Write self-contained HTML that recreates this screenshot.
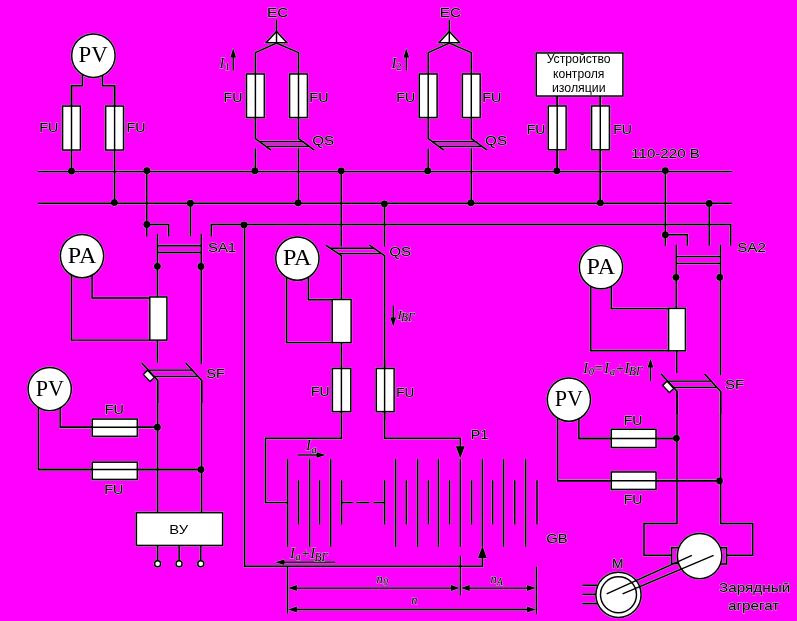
<!DOCTYPE html>
<html><head><meta charset="utf-8"><title>Схема</title>
<style>
html,body{margin:0;padding:0;background:#ff00ff;}
svg{display:block}
.s{font-family:"Liberation Sans",sans-serif;}
.r{font-family:"Liberation Serif",serif;}
.ri{font-family:"Liberation Serif",serif;font-style:italic;}
text{fill:#000;stroke:#c0c0c0;stroke-width:0.9px;paint-order:stroke fill;stroke-linejoin:round}
text.r,text.w{stroke:none}
svg{will-change:transform;}
</style></head><body>
<svg width="797" height="621" viewBox="0 0 797 621" fill="none" stroke="#000" stroke-width="1.45" stroke-linecap="butt" stroke-linejoin="miter">
<rect x="0" y="0" width="797" height="621" fill="#ff00ff" stroke="none"/>
<g stroke="#a4a4a4" fill="none">
<polyline points="38.0,171.6 732.0,171.6" stroke-width="2.40"/>
<polyline points="38.0,203.2 732.0,203.2" stroke-width="2.40"/>
<polyline points="211.3,236.4 211.3,224.5 730.7,224.5 730.7,245.8" stroke-width="2.40"/>
<polyline points="82.4,74.0 82.4,85.8 71.5,85.8 71.5,106.0" stroke-width="2.40"/>
<polyline points="102.5,74.0 102.5,85.8 114.6,85.8 114.6,106.0" stroke-width="2.40"/>
<rect x="62.6" y="106.1" width="17.8" height="43.9" stroke-width="2.40"/>
<rect x="105.7" y="106.1" width="17.8" height="43.9" stroke-width="2.40"/>
<polyline points="71.5,85.8 71.5,171.6" stroke-width="2.40"/>
<polyline points="114.6,85.8 114.6,203.2" stroke-width="2.40"/>
<circle cx="93.4" cy="55.7" r="21.7" stroke-width="2.40"/>
<circle cx="71.5" cy="171.1" r="3.88" fill="#a4a4a4" stroke="none"/>
<circle cx="114.4" cy="202.6" r="3.88" fill="#a4a4a4" stroke="none"/>
<rect x="246.5" y="74.0" width="17.8" height="43.5" stroke-width="2.40"/>
<rect x="289.6" y="74.0" width="17.8" height="43.5" stroke-width="2.40"/>
<polyline points="276.5,43.2 255.4,52.7 255.4,138.6 271.0,150.2" stroke-width="2.40"/>
<polyline points="276.5,43.2 298.5,52.7 298.5,138.6 314.3,150.2" stroke-width="2.40"/>
<polygon points="276.5,31.4 266.3,42.6 286.7,42.6" fill="#a4a4a4" stroke-width="2.40"/>
<polyline points="276.5,20.0 276.5,43.2" stroke-width="2.40"/>
<polyline points="260.1,141.6 303.8,141.6" stroke-width="2.35"/>
<polyline points="266.9,146.4 309.1,146.4" stroke-width="2.35"/>
<polyline points="255.4,148.4 255.4,171.6" stroke-width="2.40"/>
<polyline points="298.5,148.4 298.5,203.2" stroke-width="2.40"/>
<circle cx="254.9" cy="170.8" r="3.88" fill="#a4a4a4" stroke="none"/>
<circle cx="298.1" cy="202.8" r="3.88" fill="#a4a4a4" stroke="none"/>
<rect x="419.3" y="74.0" width="17.8" height="43.5" stroke-width="2.40"/>
<rect x="462.4" y="74.0" width="17.8" height="43.5" stroke-width="2.40"/>
<polyline points="449.3,43.2 428.2,52.7 428.2,138.6 443.8,150.2" stroke-width="2.40"/>
<polyline points="449.3,43.2 471.3,52.7 471.3,138.6 487.1,150.2" stroke-width="2.40"/>
<polygon points="449.3,31.4 439.1,42.6 459.5,42.6" fill="#a4a4a4" stroke-width="2.40"/>
<polyline points="449.3,20.0 449.3,43.2" stroke-width="2.40"/>
<polyline points="432.9,141.6 476.6,141.6" stroke-width="2.35"/>
<polyline points="439.7,146.4 481.9,146.4" stroke-width="2.35"/>
<polyline points="428.2,148.4 428.2,171.6" stroke-width="2.40"/>
<polyline points="471.3,148.4 471.3,203.2" stroke-width="2.40"/>
<circle cx="427.7" cy="170.8" r="3.88" fill="#a4a4a4" stroke="none"/>
<circle cx="470.9" cy="202.8" r="3.88" fill="#a4a4a4" stroke="none"/>
<polyline points="233.2,70.6 233.2,56.4" stroke-width="2.25"/>
<polygon points="233.2,48.4 230.4,57.4 236.0,57.4" fill="#a4a4a4" stroke-width="0.95"/>
<polyline points="406.3,70.6 406.3,56.4" stroke-width="2.25"/>
<polygon points="406.3,48.4 403.5,57.4 409.1,57.4" fill="#a4a4a4" stroke-width="0.95"/>
<polyline points="557.2,96.0 557.2,171.6" stroke-width="2.40"/>
<polyline points="600.3,96.0 600.3,203.2" stroke-width="2.40"/>
<rect x="536.3" y="53.0" width="86.6" height="43.0" stroke-width="2.40"/>
<rect x="548.3" y="106.0" width="17.8" height="43.7" stroke-width="2.40"/>
<rect x="591.6" y="106.0" width="17.8" height="43.7" stroke-width="2.40"/>
<polyline points="557.2,96.0 557.2,171.6" stroke-width="2.40"/>
<polyline points="600.3,96.0 600.3,203.2" stroke-width="2.40"/>
<circle cx="556.8" cy="170.8" r="3.88" fill="#a4a4a4" stroke="none"/>
<circle cx="600.3" cy="202.8" r="3.88" fill="#a4a4a4" stroke="none"/>
<polyline points="146.8,171.6 146.8,236.4" stroke-width="2.40"/>
<polyline points="146.8,224.5 168.7,224.5 168.7,236.4" stroke-width="2.40"/>
<polyline points="190.5,203.2 190.5,236.4" stroke-width="2.40"/>
<circle cx="146.8" cy="170.6" r="3.88" fill="#a4a4a4" stroke="none"/>
<circle cx="190.3" cy="203.2" r="3.88" fill="#a4a4a4" stroke="none"/>
<circle cx="146.8" cy="224.5" r="3.88" fill="#a4a4a4" stroke="none"/>
<polyline points="157.4,234.1 157.4,297.0" stroke-width="2.40"/>
<polyline points="201.2,234.1 201.2,364.2" stroke-width="2.40"/>
<polyline points="157.4,245.7 201.2,245.7" stroke-width="2.35"/>
<polyline points="157.4,252.5 201.2,252.5" stroke-width="2.35"/>
<circle cx="157.4" cy="266.3" r="3.88" fill="#a4a4a4" stroke="none"/>
<circle cx="201.0" cy="266.5" r="3.88" fill="#a4a4a4" stroke="none"/>
<circle cx="244.0" cy="224.9" r="3.88" fill="#a4a4a4" stroke="none"/>
<polyline points="244.6,224.5 244.6,566.3 482.4,566.3 482.4,556.0" stroke-width="2.40"/>
<polyline points="71.5,275.0 71.5,340.1 150.0,340.1" stroke-width="2.40"/>
<polyline points="92.1,273.0 92.1,298.0 150.5,298.0" stroke-width="2.40"/>
<circle cx="82.0" cy="256.1" r="21.6" stroke-width="2.40"/>
<rect x="149.8" y="297.0" width="17.1" height="43.1" stroke-width="2.40"/>
<polyline points="157.4,340.1 157.4,362.6" stroke-width="2.40"/>
<polyline points="141.8,363.0 157.7,380.4 157.7,403.0" stroke-width="2.40"/>
<polyline points="185.7,363.0 201.8,380.6 201.8,403.0" stroke-width="2.40"/>
<polyline points="148.8,370.1 192.7,370.1" stroke-width="2.35"/>
<polyline points="154.5,376.4 197.8,376.4" stroke-width="2.35"/>
<polyline points="157.6,380.4 157.6,512.7" stroke-width="2.40"/>
<polyline points="201.6,380.8 201.6,512.7" stroke-width="2.40"/>
<polyline points="38.4,408.0 38.4,469.5 201.5,469.5" stroke-width="2.40"/>
<polyline points="60.2,406.0 60.2,427.2 157.5,427.2" stroke-width="2.40"/>
<rect x="92.3" y="419.1" width="45.0" height="17.2" stroke-width="2.40"/>
<rect x="92.3" y="462.2" width="45.0" height="17.2" stroke-width="2.40"/>
<polyline points="60.2,427.2 157.5,427.2" stroke-width="2.40"/>
<polyline points="38.4,469.5 201.5,469.5" stroke-width="2.40"/>
<circle cx="49.7" cy="389.0" r="21.6" stroke-width="2.40"/>
<circle cx="157.4" cy="427.2" r="3.88" fill="#a4a4a4" stroke="none"/>
<circle cx="201.0" cy="469.6" r="3.88" fill="#a4a4a4" stroke="none"/>
<polyline points="157.6,545.4 157.6,561.0" stroke-width="2.40"/>
<circle cx="157.6" cy="563.8" r="3.0" stroke-width="2.40"/>
<polyline points="179.1,545.4 179.1,561.0" stroke-width="2.40"/>
<circle cx="179.1" cy="563.8" r="3.0" stroke-width="2.40"/>
<polyline points="200.8,545.4 200.8,561.0" stroke-width="2.40"/>
<circle cx="200.8" cy="563.8" r="3.0" stroke-width="2.40"/>
<rect x="136.4" y="512.7" width="86.2" height="32.7" stroke-width="2.40"/>
<polyline points="341.2,171.6 341.2,246.6" stroke-width="2.40"/>
<polyline points="384.5,203.2 384.5,246.6" stroke-width="2.40"/>
<circle cx="341.2" cy="170.8" r="3.88" fill="#a4a4a4" stroke="none"/>
<circle cx="384.4" cy="203.8" r="3.88" fill="#a4a4a4" stroke="none"/>
<polyline points="326.0,245.4 341.4,255.7 341.4,299.5" stroke-width="2.40"/>
<polyline points="369.4,245.2 384.6,255.7 384.6,438.3 460.3,438.3 460.3,447.0" stroke-width="2.40"/>
<polyline points="330.5,248.3 373.2,248.3" stroke-width="2.35"/>
<polyline points="339.5,253.6 381.2,253.6" stroke-width="2.35"/>
<polyline points="286.6,277.0 286.6,342.6 333.0,342.6" stroke-width="2.40"/>
<polyline points="308.4,276.0 308.4,299.8 333.0,299.8" stroke-width="2.40"/>
<circle cx="297.4" cy="258.6" r="21.6" stroke-width="2.40"/>
<rect x="332.2" y="299.5" width="18.9" height="43.1" stroke-width="2.40"/>
<rect x="332.4" y="368.5" width="18.4" height="43.1" stroke-width="2.40"/>
<rect x="376.3" y="368.5" width="17.8" height="43.1" stroke-width="2.40"/>
<polyline points="341.4,342.6 341.4,438.3 265.5,438.3 265.5,502.6 287.5,502.6" stroke-width="2.40"/>
<polyline points="384.6,360.0 384.6,420.0" stroke-width="2.40"/>
<polygon points="460.3,458.3 455.9,446.2 464.7,446.2" fill="#a4a4a4" stroke-width="0.95"/>
<polyline points="393.2,305.6 393.2,318.4" stroke-width="2.25"/>
<polygon points="393.2,326.4 390.4,317.4 396.0,317.4" fill="#a4a4a4" stroke-width="0.95"/>
<polyline points="287.6,459.2 287.6,546.7" stroke-width="2.45"/>
<polyline points="309.6,459.2 309.6,546.7" stroke-width="2.45"/>
<polyline points="330.7,459.2 330.7,546.7" stroke-width="2.45"/>
<polyline points="395.6,459.2 395.6,546.7" stroke-width="2.45"/>
<polyline points="417.6,459.2 417.6,546.7" stroke-width="2.45"/>
<polyline points="438.4,459.2 438.4,546.7" stroke-width="2.45"/>
<polyline points="460.3,459.2 460.3,546.7" stroke-width="2.45"/>
<polyline points="482.4,459.2 482.4,546.7" stroke-width="2.45"/>
<polyline points="503.5,459.2 503.5,546.7" stroke-width="2.45"/>
<polyline points="525.6,459.2 525.6,546.7" stroke-width="2.45"/>
<polyline points="298.5,480.3 298.5,524.5" stroke-width="2.45"/>
<polyline points="319.6,480.3 319.6,524.5" stroke-width="2.45"/>
<polyline points="341.6,480.3 341.6,524.5" stroke-width="2.45"/>
<polyline points="384.6,480.3 384.6,524.5" stroke-width="2.45"/>
<polyline points="406.3,480.3 406.3,524.5" stroke-width="2.45"/>
<polyline points="428.4,480.3 428.4,524.5" stroke-width="2.45"/>
<polyline points="449.5,480.3 449.5,524.5" stroke-width="2.45"/>
<polyline points="471.6,480.3 471.6,524.5" stroke-width="2.45"/>
<polyline points="492.7,480.3 492.7,524.5" stroke-width="2.45"/>
<polyline points="514.8,480.3 514.8,524.5" stroke-width="2.45"/>
<polyline points="537.0,480.3 537.0,524.5" stroke-width="2.45"/>
<polyline points="341.6,502.6 352.9,502.6" stroke-width="2.40"/>
<polyline points="356.6,502.6 369.2,502.6" stroke-width="2.40"/>
<polyline points="373.6,502.6 384.6,502.6" stroke-width="2.40"/>
<polygon points="482.4,546.3 478.0,558.0 486.8,558.0" fill="#a4a4a4" stroke-width="0.95"/>
<polyline points="297.9,455.0 317.6,455.0" stroke-width="2.25"/>
<polygon points="325.6,455.0 316.6,452.3 316.6,457.7" fill="#a4a4a4" stroke-width="0.95"/>
<polyline points="335.0,562.2 283.4,562.2" stroke-width="2.25"/>
<polygon points="275.4,562.2 284.4,559.5 284.4,564.9" fill="#a4a4a4" stroke-width="0.95"/>
<polyline points="287.5,566.3 287.5,613.5" stroke-width="2.25"/>
<polyline points="460.3,555.5 460.3,595.2" stroke-width="2.25"/>
<polyline points="536.4,566.8 536.4,614.0" stroke-width="2.25"/>
<polyline points="295.5,588.1 452.3,588.1" stroke-width="2.25"/>
<polygon points="288.3,588.1 296.9,585.1 296.9,591.1" fill="#a4a4a4" stroke-width="0.95"/>
<polygon points="459.5,588.1 450.9,585.1 450.9,591.1" fill="#a4a4a4" stroke-width="0.95"/>
<polyline points="468.3,588.1 528.4,588.1" stroke-width="2.25"/>
<polygon points="461.1,588.1 469.7,585.1 469.7,591.1" fill="#a4a4a4" stroke-width="0.95"/>
<polygon points="535.6,588.1 527.0,585.1 527.0,591.1" fill="#a4a4a4" stroke-width="0.95"/>
<polyline points="295.5,609.5 528.4,609.5" stroke-width="2.25"/>
<polygon points="288.3,609.5 296.9,606.5 296.9,612.5" fill="#a4a4a4" stroke-width="0.95"/>
<polygon points="535.6,609.5 527.0,606.5 527.0,612.5" fill="#a4a4a4" stroke-width="0.95"/>
<polyline points="665.3,171.6 665.3,245.8" stroke-width="2.40"/>
<polyline points="665.3,234.8 687.3,234.8 687.3,245.8" stroke-width="2.40"/>
<polyline points="709.2,203.2 709.2,245.8" stroke-width="2.40"/>
<circle cx="665.3" cy="170.6" r="3.88" fill="#a4a4a4" stroke="none"/>
<circle cx="709.2" cy="203.4" r="3.88" fill="#a4a4a4" stroke="none"/>
<circle cx="665.3" cy="234.8" r="3.88" fill="#a4a4a4" stroke="none"/>
<polyline points="676.2,244.8 676.2,308.4" stroke-width="2.40"/>
<polyline points="720.5,244.8 720.5,375.2" stroke-width="2.40"/>
<polyline points="676.0,256.6 720.5,256.6" stroke-width="2.35"/>
<polyline points="676.0,263.4 720.5,263.4" stroke-width="2.35"/>
<circle cx="676.0" cy="277.3" r="3.88" fill="#a4a4a4" stroke="none"/>
<circle cx="719.8" cy="277.3" r="3.88" fill="#a4a4a4" stroke="none"/>
<polyline points="590.8,286.0 590.8,350.8 669.0,350.8" stroke-width="2.40"/>
<polyline points="611.3,284.0 611.3,308.6 669.0,308.6" stroke-width="2.40"/>
<circle cx="601.0" cy="267.2" r="21.6" stroke-width="2.40"/>
<rect x="668.6" y="308.4" width="16.8" height="42.4" stroke-width="2.40"/>
<polyline points="676.8,350.8 676.8,372.9" stroke-width="2.40"/>
<polyline points="661.2,374.0 677.1,391.4 677.1,414.0" stroke-width="2.40"/>
<polyline points="704.6,374.0 720.7,391.6 720.7,414.0" stroke-width="2.40"/>
<polyline points="668.2,381.1 711.6,381.1" stroke-width="2.35"/>
<polyline points="673.9,387.4 716.7,387.4" stroke-width="2.35"/>
<polyline points="677.0,391.4 677.0,523.5 644.0,523.5 644.0,555.3 671.0,555.3" stroke-width="2.40"/>
<polyline points="720.7,391.6 720.7,523.5 752.8,523.5 752.8,555.3 727.0,555.3" stroke-width="2.40"/>
<polyline points="650.5,381.0 650.5,366.5" stroke-width="2.25"/>
<polygon points="650.5,358.5 647.7,367.5 653.3,367.5" fill="#a4a4a4" stroke-width="0.95"/>
<polyline points="557.6,419.0 557.6,480.8 720.5,480.8" stroke-width="2.40"/>
<polyline points="578.9,418.0 578.9,438.4 677.0,438.4" stroke-width="2.40"/>
<rect x="611.3" y="429.3" width="44.7" height="18.2" stroke-width="2.40"/>
<rect x="611.3" y="472.0" width="44.7" height="17.4" stroke-width="2.40"/>
<polyline points="578.9,438.4 677.0,438.4" stroke-width="2.40"/>
<polyline points="557.6,480.8 720.5,480.8" stroke-width="2.40"/>
<circle cx="568.9" cy="399.6" r="21.6" stroke-width="2.40"/>
<circle cx="676.4" cy="438.3" r="3.88" fill="#a4a4a4" stroke="none"/>
<circle cx="719.6" cy="480.8" r="3.88" fill="#a4a4a4" stroke="none"/>
<polyline points="680.0,547.8 671.6,547.8 671.6,563.6 680.0,563.6" stroke-width="2.45"/>
<polyline points="718.0,547.8 726.6,547.8 726.6,563.9 718.0,563.9" stroke-width="2.45"/>
<ellipse cx="699.6" cy="556.0" rx="22.2" ry="22.6" stroke-width="2.40"/>
<polyline points="582.4,585.2 597.0,585.2" stroke-width="2.45"/>
<polyline points="582.4,594.3 597.0,594.3" stroke-width="2.45"/>
<polyline points="582.4,603.6 597.0,603.6" stroke-width="2.45"/>
<circle cx="618.5" cy="594.8" r="22.6" stroke-width="2.40"/>
<circle cx="618.5" cy="594.8" r="18.0" stroke-width="2.40"/>
<polyline points="606.7,593.8 691.9,555.3" stroke-width="2.40"/>
<polyline points="622.6,593.8 713.6,555.3" stroke-width="2.40"/>
</g>
<polyline points="38.0,171.6 732.0,171.6"/>
<polyline points="38.0,203.2 732.0,203.2"/>
<polyline points="211.3,236.4 211.3,224.5 730.7,224.5 730.7,245.8"/>
<polyline points="82.4,74.0 82.4,85.8 71.5,85.8 71.5,106.0"/>
<polyline points="102.5,74.0 102.5,85.8 114.6,85.8 114.6,106.0"/>
<rect x="62.6" y="106.1" width="17.8" height="43.9" fill="#fff"/>
<rect x="105.7" y="106.1" width="17.8" height="43.9" fill="#fff"/>
<polyline points="71.5,85.8 71.5,171.6"/>
<polyline points="114.6,85.8 114.6,203.2"/>
<circle cx="93.4" cy="55.7" r="21.7" fill="#fff"/>
<text class="r" x="93.2" y="62.2" font-size="24" text-anchor="middle" textLength="29.2" lengthAdjust="spacingAndGlyphs">PV</text>
<circle cx="71.5" cy="171.1" r="3.4" fill="#000" stroke="none"/>
<circle cx="114.4" cy="202.6" r="3.4" fill="#000" stroke="none"/>
<text class="s" x="39.35" y="131.7" font-size="13.2" textLength="19.11" lengthAdjust="spacingAndGlyphs">FU</text>
<text class="s" x="126.45" y="131.7" font-size="13.2" textLength="19.01" lengthAdjust="spacingAndGlyphs">FU</text>
<rect x="246.5" y="74.0" width="17.8" height="43.5" fill="#fff"/>
<rect x="289.6" y="74.0" width="17.8" height="43.5" fill="#fff"/>
<polyline points="276.5,43.2 255.4,52.7 255.4,138.6 271.0,150.2"/>
<polyline points="276.5,43.2 298.5,52.7 298.5,138.6 314.3,150.2"/>
<polygon points="276.5,31.4 266.3,42.6 286.7,42.6" fill="#fff"/>
<polyline points="276.5,20.0 276.5,43.2"/>
<polyline points="260.1,141.6 303.8,141.6" stroke-width="1.4"/>
<polyline points="266.9,146.4 309.1,146.4" stroke-width="1.4"/>
<polyline points="255.4,148.4 255.4,171.6"/>
<polyline points="298.5,148.4 298.5,203.2"/>
<circle cx="254.9" cy="170.8" r="3.4" fill="#000" stroke="none"/>
<circle cx="298.1" cy="202.8" r="3.4" fill="#000" stroke="none"/>
<text class="s" x="266.95" y="17.3" font-size="13.2" textLength="21.39" lengthAdjust="spacingAndGlyphs">EC</text>
<text class="s" x="223.55" y="102.2" font-size="13.2" textLength="18.91" lengthAdjust="spacingAndGlyphs">FU</text>
<text class="s" x="309.35" y="102.2" font-size="13.2" textLength="19.21" lengthAdjust="spacingAndGlyphs">FU</text>
<text class="s" x="312.25" y="145.1" font-size="13.2" textLength="22.00" lengthAdjust="spacingAndGlyphs">QS</text>
<rect x="419.3" y="74.0" width="17.8" height="43.5" fill="#fff"/>
<rect x="462.4" y="74.0" width="17.8" height="43.5" fill="#fff"/>
<polyline points="449.3,43.2 428.2,52.7 428.2,138.6 443.8,150.2"/>
<polyline points="449.3,43.2 471.3,52.7 471.3,138.6 487.1,150.2"/>
<polygon points="449.3,31.4 439.1,42.6 459.5,42.6" fill="#fff"/>
<polyline points="449.3,20.0 449.3,43.2"/>
<polyline points="432.9,141.6 476.6,141.6" stroke-width="1.4"/>
<polyline points="439.7,146.4 481.9,146.4" stroke-width="1.4"/>
<polyline points="428.2,148.4 428.2,171.6"/>
<polyline points="471.3,148.4 471.3,203.2"/>
<circle cx="427.7" cy="170.8" r="3.4" fill="#000" stroke="none"/>
<circle cx="470.9" cy="202.8" r="3.4" fill="#000" stroke="none"/>
<text class="s" x="439.75" y="17.3" font-size="13.2" textLength="21.39" lengthAdjust="spacingAndGlyphs">EC</text>
<text class="s" x="396.35" y="102.2" font-size="13.2" textLength="18.91" lengthAdjust="spacingAndGlyphs">FU</text>
<text class="s" x="482.15" y="102.2" font-size="13.2" textLength="19.21" lengthAdjust="spacingAndGlyphs">FU</text>
<text class="s" x="485.05" y="145.1" font-size="13.2" textLength="22.00" lengthAdjust="spacingAndGlyphs">QS</text>
<polyline points="233.2,70.6 233.2,56.4" stroke-width="1.3"/>
<polygon points="233.2,48.4 230.4,57.4 236.0,57.4" fill="#000" stroke="none"/>
<text class="ri" x="219.4" y="67.6" font-size="14.5">I<tspan font-size="10" dy="2.2" dx="0.6" font-style="normal">1</tspan></text>
<polyline points="406.3,70.6 406.3,56.4" stroke-width="1.3"/>
<polygon points="406.3,48.4 403.5,57.4 409.1,57.4" fill="#000" stroke="none"/>
<text class="ri" x="391.4" y="67.6" font-size="14.5">I<tspan font-size="10" dy="2.2" dx="0.3" font-style="normal">2</tspan></text>
<polyline points="557.2,96.0 557.2,171.6"/>
<polyline points="600.3,96.0 600.3,203.2"/>
<rect x="536.3" y="53.0" width="86.6" height="43.0" fill="#fff"/>
<rect x="548.3" y="106.0" width="17.8" height="43.7" fill="#fff"/>
<rect x="591.6" y="106.0" width="17.8" height="43.7" fill="#fff"/>
<polyline points="557.2,96.0 557.2,171.6"/>
<polyline points="600.3,96.0 600.3,203.2"/>
<circle cx="556.8" cy="170.8" r="3.4" fill="#000" stroke="none"/>
<circle cx="600.3" cy="202.8" r="3.4" fill="#000" stroke="none"/>
<text class="s w" x="546.65" y="63.3" font-size="12.5" textLength="63.99" lengthAdjust="spacingAndGlyphs">Устройство</text>
<text class="s w" x="552.95" y="77.8" font-size="12.5" textLength="51.41" lengthAdjust="spacingAndGlyphs">контроля</text>
<text class="s w" x="551.95" y="92.3" font-size="12.5" textLength="53.70" lengthAdjust="spacingAndGlyphs">изоляции</text>
<text class="s" x="526.75" y="134.1" font-size="13.2" textLength="18.71" lengthAdjust="spacingAndGlyphs">FU</text>
<text class="s" x="613.15" y="134.1" font-size="13.2" textLength="18.71" lengthAdjust="spacingAndGlyphs">FU</text>
<text class="s" x="631.35" y="158.0" font-size="13.2" textLength="68.41" lengthAdjust="spacingAndGlyphs">110-220 В</text>
<polyline points="146.8,171.6 146.8,236.4"/>
<polyline points="146.8,224.5 168.7,224.5 168.7,236.4"/>
<polyline points="190.5,203.2 190.5,236.4"/>
<circle cx="146.8" cy="170.6" r="3.4" fill="#000" stroke="none"/>
<circle cx="190.3" cy="203.2" r="3.4" fill="#000" stroke="none"/>
<circle cx="146.8" cy="224.5" r="3.4" fill="#000" stroke="none"/>
<polyline points="157.4,234.1 157.4,297.0"/>
<polyline points="201.2,234.1 201.2,364.2"/>
<polyline points="157.4,245.7 201.2,245.7" stroke-width="1.4"/>
<polyline points="157.4,252.5 201.2,252.5" stroke-width="1.4"/>
<circle cx="157.4" cy="266.3" r="3.4" fill="#000" stroke="none"/>
<circle cx="201.0" cy="266.5" r="3.4" fill="#000" stroke="none"/>
<text class="s" x="208.05" y="251.8" font-size="13.2" textLength="28.10" lengthAdjust="spacingAndGlyphs">SA1</text>
<circle cx="244.0" cy="224.9" r="3.4" fill="#000" stroke="none"/>
<polyline points="244.6,224.5 244.6,566.3 482.4,566.3 482.4,556.0"/>
<polyline points="71.5,275.0 71.5,340.1 150.0,340.1"/>
<polyline points="92.1,273.0 92.1,298.0 150.5,298.0"/>
<circle cx="82.0" cy="256.1" r="21.6" fill="#fff"/>
<text class="r" x="82.0" y="263.3" font-size="24" text-anchor="middle" textLength="28.6" lengthAdjust="spacingAndGlyphs">PA</text>
<rect x="149.8" y="297.0" width="17.1" height="43.1" fill="#fff"/>
<polyline points="157.4,340.1 157.4,362.6"/>
<polyline points="141.8,363.0 157.7,380.4 157.7,403.0"/>
<polyline points="185.7,363.0 201.8,380.6 201.8,403.0"/>
<polyline points="148.8,370.1 192.7,370.1" stroke-width="1.4"/>
<polyline points="154.5,376.4 197.8,376.4" stroke-width="1.4"/>
<rect x="143.9" y="372.9" width="9.8" height="6.0" fill="#fff" stroke-width="1.3" transform="rotate(47 148.8 375.9)"/>
<polyline points="157.6,380.4 157.6,512.7"/>
<polyline points="201.6,380.8 201.6,512.7"/>
<text class="s" x="206.25" y="377.7" font-size="13.2" textLength="18.81" lengthAdjust="spacingAndGlyphs">SF</text>
<polyline points="38.4,408.0 38.4,469.5 201.5,469.5"/>
<polyline points="60.2,406.0 60.2,427.2 157.5,427.2"/>
<rect x="92.3" y="419.1" width="45.0" height="17.2" fill="#fff"/>
<rect x="92.3" y="462.2" width="45.0" height="17.2" fill="#fff"/>
<polyline points="60.2,427.2 157.5,427.2"/>
<polyline points="38.4,469.5 201.5,469.5"/>
<circle cx="49.7" cy="389.0" r="21.6" fill="#fff"/>
<text class="r" x="49.9" y="395.7" font-size="24" text-anchor="middle" textLength="28.2" lengthAdjust="spacingAndGlyphs">PV</text>
<circle cx="157.4" cy="427.2" r="3.4" fill="#000" stroke="none"/>
<circle cx="201.0" cy="469.6" r="3.4" fill="#000" stroke="none"/>
<text class="s" x="104.65" y="414.4" font-size="13.2" textLength="19.11" lengthAdjust="spacingAndGlyphs">FU</text>
<text class="s" x="104.25" y="493.6" font-size="13.2" textLength="19.21" lengthAdjust="spacingAndGlyphs">FU</text>
<polyline points="157.6,545.4 157.6,561.0"/>
<circle cx="157.6" cy="563.8" r="3.0" fill="#fff"/>
<polyline points="179.1,545.4 179.1,561.0"/>
<circle cx="179.1" cy="563.8" r="3.0" fill="#fff"/>
<polyline points="200.8,545.4 200.8,561.0"/>
<circle cx="200.8" cy="563.8" r="3.0" fill="#fff"/>
<rect x="136.4" y="512.7" width="86.2" height="32.7" fill="#fff"/>
<text class="s w" x="169.35" y="533.8" font-size="13.2" textLength="18.78" lengthAdjust="spacingAndGlyphs">ВУ</text>
<polyline points="341.2,171.6 341.2,246.6"/>
<polyline points="384.5,203.2 384.5,246.6"/>
<circle cx="341.2" cy="170.8" r="3.4" fill="#000" stroke="none"/>
<circle cx="384.4" cy="203.8" r="3.4" fill="#000" stroke="none"/>
<polyline points="326.0,245.4 341.4,255.7 341.4,299.5"/>
<polyline points="369.4,245.2 384.6,255.7 384.6,438.3 460.3,438.3 460.3,447.0"/>
<polyline points="330.5,248.3 373.2,248.3" stroke-width="1.4"/>
<polyline points="339.5,253.6 381.2,253.6" stroke-width="1.4"/>
<text class="s" x="389.25" y="256.1" font-size="13.2" textLength="22.00" lengthAdjust="spacingAndGlyphs">QS</text>
<polyline points="286.6,277.0 286.6,342.6 333.0,342.6"/>
<polyline points="308.4,276.0 308.4,299.8 333.0,299.8"/>
<circle cx="297.4" cy="258.6" r="21.6" fill="#fff"/>
<text class="r" x="297.2" y="265.2" font-size="24" text-anchor="middle" textLength="28.6" lengthAdjust="spacingAndGlyphs">PA</text>
<rect x="332.2" y="299.5" width="18.9" height="43.1" fill="#fff"/>
<rect x="332.4" y="368.5" width="18.4" height="43.1" fill="#fff"/>
<rect x="376.3" y="368.5" width="17.8" height="43.1" fill="#fff"/>
<polyline points="341.4,342.6 341.4,438.3 265.5,438.3 265.5,502.6 287.5,502.6"/>
<polyline points="384.6,360.0 384.6,420.0"/>
<text class="s" x="310.95" y="396.2" font-size="13.2" textLength="18.61" lengthAdjust="spacingAndGlyphs">FU</text>
<text class="s" x="396.25" y="396.5" font-size="13.2" textLength="18.01" lengthAdjust="spacingAndGlyphs">FU</text>
<polygon points="460.3,458.3 455.9,446.2 464.7,446.2" fill="#000" stroke="none"/>
<text class="s" x="470.75" y="438.6" font-size="13.2" textLength="17.71" lengthAdjust="spacingAndGlyphs">P1</text>
<polyline points="393.2,305.6 393.2,318.4" stroke-width="1.3"/>
<polygon points="393.2,326.4 390.4,317.4 396.0,317.4" fill="#000" stroke="none"/>
<text class="ri" x="397.5" y="318.6" font-size="13.2">I<tspan font-size="11.5" dy="2.6" dx="-0.8">ВГ</tspan></text>
<polyline points="287.6,459.2 287.6,546.7" stroke-width="1.5"/>
<polyline points="309.6,459.2 309.6,546.7" stroke-width="1.5"/>
<polyline points="330.7,459.2 330.7,546.7" stroke-width="1.5"/>
<polyline points="395.6,459.2 395.6,546.7" stroke-width="1.5"/>
<polyline points="417.6,459.2 417.6,546.7" stroke-width="1.5"/>
<polyline points="438.4,459.2 438.4,546.7" stroke-width="1.5"/>
<polyline points="460.3,459.2 460.3,546.7" stroke-width="1.5"/>
<polyline points="482.4,459.2 482.4,546.7" stroke-width="1.5"/>
<polyline points="503.5,459.2 503.5,546.7" stroke-width="1.5"/>
<polyline points="525.6,459.2 525.6,546.7" stroke-width="1.5"/>
<polyline points="298.5,480.3 298.5,524.5" stroke-width="1.5"/>
<polyline points="319.6,480.3 319.6,524.5" stroke-width="1.5"/>
<polyline points="341.6,480.3 341.6,524.5" stroke-width="1.5"/>
<polyline points="384.6,480.3 384.6,524.5" stroke-width="1.5"/>
<polyline points="406.3,480.3 406.3,524.5" stroke-width="1.5"/>
<polyline points="428.4,480.3 428.4,524.5" stroke-width="1.5"/>
<polyline points="449.5,480.3 449.5,524.5" stroke-width="1.5"/>
<polyline points="471.6,480.3 471.6,524.5" stroke-width="1.5"/>
<polyline points="492.7,480.3 492.7,524.5" stroke-width="1.5"/>
<polyline points="514.8,480.3 514.8,524.5" stroke-width="1.5"/>
<polyline points="537.0,480.3 537.0,524.5" stroke-width="1.5"/>
<polyline points="341.6,502.6 352.9,502.6"/>
<polyline points="356.6,502.6 369.2,502.6"/>
<polyline points="373.6,502.6 384.6,502.6"/>
<polygon points="482.4,546.3 478.0,558.0 486.8,558.0" fill="#000" stroke="none"/>
<text class="s" x="546.25" y="542.5" font-size="13.2" textLength="21.60" lengthAdjust="spacingAndGlyphs">GB</text>
<polyline points="297.9,455.0 317.6,455.0" stroke-width="1.3"/>
<polygon points="325.6,455.0 316.6,452.3 316.6,457.7" fill="#000" stroke="none"/>
<text class="ri" x="306" y="450.4" font-size="14.5">I<tspan font-size="11" dy="2.3" dx="0.3">а</tspan></text>
<polyline points="335.0,562.2 283.4,562.2" stroke-width="1.3"/>
<polygon points="275.4,562.2 284.4,559.5 284.4,564.9" fill="#000" stroke="none"/>
<text class="ri" x="290" y="558" font-size="14.5">I<tspan font-size="11" dy="2.0" dx="0.5">а</tspan><tspan dy="-2.0" dx="0.8" font-style="normal">+</tspan><tspan dx="0.3">I</tspan><tspan font-size="11.5" dy="2.5" dx="-0.4">ВГ</tspan></text>
<polyline points="287.5,566.3 287.5,613.5" stroke-width="1.3"/>
<polyline points="460.3,555.5 460.3,595.2" stroke-width="1.3"/>
<polyline points="536.4,566.8 536.4,614.0" stroke-width="1.3"/>
<polyline points="295.5,588.1 452.3,588.1" stroke-width="1.3"/>
<polygon points="288.3,588.1 296.9,585.1 296.9,591.1" fill="#000" stroke="none"/>
<polygon points="459.5,588.1 450.9,585.1 450.9,591.1" fill="#000" stroke="none"/>
<polyline points="468.3,588.1 528.4,588.1" stroke-width="1.3"/>
<polygon points="461.1,588.1 469.7,585.1 469.7,591.1" fill="#000" stroke="none"/>
<polygon points="535.6,588.1 527.0,585.1 527.0,591.1" fill="#000" stroke="none"/>
<polyline points="295.5,609.5 528.4,609.5" stroke-width="1.3"/>
<polygon points="288.3,609.5 296.9,606.5 296.9,612.5" fill="#000" stroke="none"/>
<polygon points="535.6,609.5 527.0,606.5 527.0,612.5" fill="#000" stroke="none"/>
<text class="ri" x="376.6" y="583.2" font-size="12.5">n<tspan font-size="9.5" dy="2.2" dx="0.3">0</tspan></text>
<text class="ri" x="490.5" y="583.2" font-size="12.5">n<tspan font-size="9.5" dy="2.2" dx="0.3">А</tspan></text>
<text class="ri" x="411.2" y="604.3" font-size="12.5">n</text>
<polyline points="665.3,171.6 665.3,245.8"/>
<polyline points="665.3,234.8 687.3,234.8 687.3,245.8"/>
<polyline points="709.2,203.2 709.2,245.8"/>
<circle cx="665.3" cy="170.6" r="3.4" fill="#000" stroke="none"/>
<circle cx="709.2" cy="203.4" r="3.4" fill="#000" stroke="none"/>
<circle cx="665.3" cy="234.8" r="3.4" fill="#000" stroke="none"/>
<polyline points="676.2,244.8 676.2,308.4"/>
<polyline points="720.5,244.8 720.5,375.2"/>
<polyline points="676.0,256.6 720.5,256.6" stroke-width="1.4"/>
<polyline points="676.0,263.4 720.5,263.4" stroke-width="1.4"/>
<circle cx="676.0" cy="277.3" r="3.4" fill="#000" stroke="none"/>
<circle cx="719.8" cy="277.3" r="3.4" fill="#000" stroke="none"/>
<text class="s" x="737.25" y="252.4" font-size="13.2" textLength="28.60" lengthAdjust="spacingAndGlyphs">SA2</text>
<polyline points="590.8,286.0 590.8,350.8 669.0,350.8"/>
<polyline points="611.3,284.0 611.3,308.6 669.0,308.6"/>
<circle cx="601.0" cy="267.2" r="21.6" fill="#fff"/>
<text class="r" x="600.8" y="273.8" font-size="24" text-anchor="middle" textLength="28.6" lengthAdjust="spacingAndGlyphs">PA</text>
<rect x="668.6" y="308.4" width="16.8" height="42.4" fill="#fff"/>
<polyline points="676.8,350.8 676.8,372.9"/>
<polyline points="661.2,374.0 677.1,391.4 677.1,414.0"/>
<polyline points="704.6,374.0 720.7,391.6 720.7,414.0"/>
<polyline points="668.2,381.1 711.6,381.1" stroke-width="1.4"/>
<polyline points="673.9,387.4 716.7,387.4" stroke-width="1.4"/>
<rect x="663.3" y="383.9" width="9.8" height="6.0" fill="#fff" stroke-width="1.3" transform="rotate(47 668.2 386.9)"/>
<polyline points="677.0,391.4 677.0,523.5 644.0,523.5 644.0,555.3 671.0,555.3"/>
<polyline points="720.7,391.6 720.7,523.5 752.8,523.5 752.8,555.3 727.0,555.3"/>
<text class="s" x="725.05" y="388.5" font-size="13.2" textLength="19.31" lengthAdjust="spacingAndGlyphs">SF</text>
<polyline points="650.5,381.0 650.5,366.5" stroke-width="1.3"/>
<polygon points="650.5,358.5 647.7,367.5 653.3,367.5" fill="#000" stroke="none"/>
<text class="ri" x="583.3" y="372.6" font-size="14.5">I<tspan font-size="10.5" dy="2.6" dx="0.6">0</tspan><tspan dy="-2.6" dx="0.6" font-style="normal" font-size="15.5">=</tspan><tspan dx="1.0">I</tspan><tspan font-size="11" dy="2.0" dx="0.5">а</tspan><tspan dy="-2.0" dx="0.8" font-style="normal">+</tspan><tspan dx="0.3">I</tspan><tspan font-size="11.5" dy="2.5" dx="-0.4">ВГ</tspan></text>
<polyline points="557.6,419.0 557.6,480.8 720.5,480.8"/>
<polyline points="578.9,418.0 578.9,438.4 677.0,438.4"/>
<rect x="611.3" y="429.3" width="44.7" height="18.2" fill="#fff"/>
<rect x="611.3" y="472.0" width="44.7" height="17.4" fill="#fff"/>
<polyline points="578.9,438.4 677.0,438.4"/>
<polyline points="557.6,480.8 720.5,480.8"/>
<circle cx="568.9" cy="399.6" r="21.6" fill="#fff"/>
<text class="r" x="568.9" y="406.3" font-size="24" text-anchor="middle" textLength="28.2" lengthAdjust="spacingAndGlyphs">PV</text>
<circle cx="676.4" cy="438.3" r="3.4" fill="#000" stroke="none"/>
<circle cx="719.6" cy="480.8" r="3.4" fill="#000" stroke="none"/>
<text class="s" x="623.65" y="424.8" font-size="13.2" textLength="18.91" lengthAdjust="spacingAndGlyphs">FU</text>
<text class="s" x="623.65" y="503.5" font-size="13.2" textLength="18.91" lengthAdjust="spacingAndGlyphs">FU</text>
<polyline points="680.0,547.8 671.6,547.8 671.6,563.6 680.0,563.6" stroke-width="1.5"/>
<polyline points="718.0,547.8 726.6,547.8 726.6,563.9 718.0,563.9" stroke-width="1.5"/>
<ellipse cx="699.6" cy="556.0" rx="22.2" ry="22.6" fill="#fff"/>
<polyline points="582.4,585.2 597.0,585.2" stroke-width="1.5"/>
<polyline points="582.4,594.3 597.0,594.3" stroke-width="1.5"/>
<polyline points="582.4,603.6 597.0,603.6" stroke-width="1.5"/>
<circle cx="618.5" cy="594.8" r="22.6" fill="#fff"/>
<circle cx="618.5" cy="594.8" r="18.0" fill="#fff"/>
<polyline points="606.7,593.8 691.9,555.3"/>
<polyline points="622.6,593.8 713.6,555.3"/>
<text class="s" x="611.95" y="567.6" font-size="13.2" textLength="11.51" lengthAdjust="spacingAndGlyphs">M</text>
<text class="s" x="718.95" y="591.8" font-size="13.2" textLength="71.40" lengthAdjust="spacingAndGlyphs">Зарядный</text>
<text class="s" x="727.95" y="609.7" font-size="13.2" textLength="51.41" lengthAdjust="spacingAndGlyphs">агрегат</text>
</svg>
</body></html>
